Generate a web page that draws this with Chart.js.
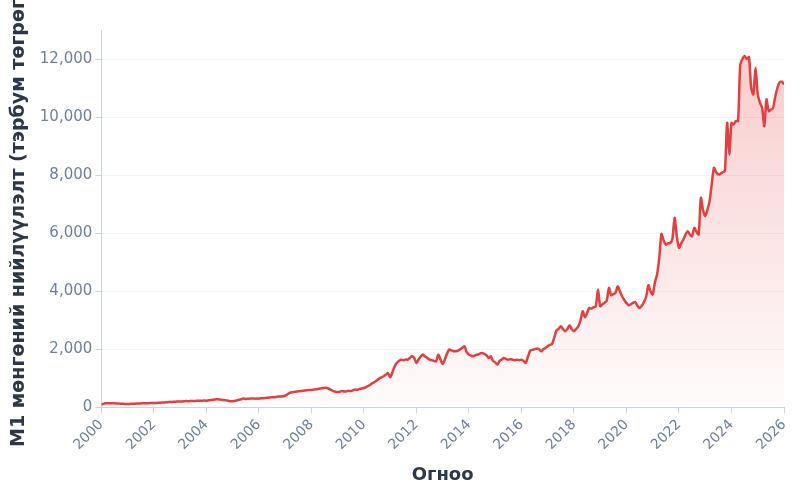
<!DOCTYPE html>
<html>
<head>
<meta charset="utf-8">
<script src="https://cdn.jsdelivr.net/npm/chart.js@4/dist/chart.umd.min.js"></script>
<style>
  html, body { margin: 0; padding: 0; background: #ffffff; }
  #wrap { width: 800px; height: 500px; }
</style>
</head>
<body>
<div id="wrap"><canvas id="c"></canvas></div>
<script>
// Monthly M1 values (billion MNT), Jan of startYear onward
const startYear = 2000;
const m1_2000 = [93, 120, 138, 140, 142, 140, 138, 135, 130, 125, 120, 117];
const m1_2001 = [115, 118, 122, 125, 130, 132, 135, 138, 140, 142, 145, 148];
const m1_2002 = [150, 152, 155, 160, 165, 170, 175, 180, 185, 190, 195, 200];
const m1_2003 = [205, 200, 210, 215, 212, 218, 220, 222, 225, 228, 230, 232];
const m1_2004 = [230, 240, 250, 260, 270, 275, 272, 265, 255, 240, 225, 210];
const m1_2005 = [210, 220, 240, 260, 280, 300, 290, 295, 300, 305, 300, 300];
const m1_2006 = [300, 310, 315, 320, 330, 340, 345, 350, 360, 370, 375, 380];
const m1_2007 = [400, 440, 500, 517, 530, 540, 550, 560, 570, 580, 590, 600];
const m1_2008 = [600, 610, 620, 630, 650, 660, 670, 667, 640, 600, 560, 540];
const m1_2009 = [528, 540, 560, 545, 552, 570, 560, 590, 610, 600, 630, 650];
const m1_2010 = [667, 700, 740, 780, 838, 880, 930, 990, 1030, 1069, 1120, 1183];
const m1_2011 = [1034, 1200, 1400, 1528, 1600, 1643, 1620, 1650, 1643, 1700, 1759, 1700];
const m1_2012 = [1528, 1650, 1750, 1816, 1750, 1700, 1643, 1620, 1600, 1586, 1816, 1650];
const m1_2013 = [1494, 1650, 1850, 1988, 1960, 1931, 1931, 1950, 2000, 2050, 2103, 1900];
const m1_2014 = [1816, 1780, 1759, 1800, 1816, 1850, 1873, 1840, 1800, 1700, 1759, 1600];
const m1_2015 = [1550, 1471, 1600, 1650, 1700, 1666, 1640, 1660, 1640, 1620, 1643, 1621];
const m1_2016 = [1643, 1600, 1528, 1750, 1954, 1980, 2000, 2023, 2010, 1931, 2000, 2050];
const m1_2017 = [2103, 2150, 2183, 2400, 2643, 2700, 2793, 2700, 2620, 2700, 2827, 2700];
const m1_2018 = [2620, 2700, 2793, 3000, 3310, 3103, 3250, 3424, 3400, 3450, 3480, 4058];
const m1_2019 = [3482, 3550, 3600, 3678, 4114, 3862, 3900, 3940, 4172, 4000, 3827, 3700];
const m1_2020 = [3600, 3517, 3550, 3600, 3631, 3500, 3424, 3500, 3631, 3800, 4207, 4000];
const m1_2021 = [3886, 4300, 4576, 5148, 5976, 5750, 5610, 5650, 5660, 5800, 6528, 5900];
const m1_2022 = [5493, 5650, 5782, 5950, 6069, 5950, 5896, 6183, 6050, 5954, 7217, 6800];
const m1_2023 = [6586, 6800, 7103, 7700, 8252, 8100, 8022, 8050, 8100, 8137, 9804, 8713];
const m1_2024 = [9800, 9747, 9862, 9862, 11800, 12000, 12103, 12000, 12070, 11010, 10780, 11700];
const m1_2025 = [10780, 10500, 10320, 9690, 10610, 10207, 10250, 10320, 10700, 11010, 11200, 11218];
const m1_2026 = [11126];

const yTickValues = [0, 2000, 4000, 6000, 8000, 10000, 12000];
const xTickYears = [2000, 2002, 2004, 2006, 2008, 2010, 2012, 2014, 2016, 2018, 2020, 2022, 2024, 2026];

const allMonthly = [].concat(m1_2000, m1_2001, m1_2002, m1_2003, m1_2004, m1_2005, m1_2006,
  m1_2007, m1_2008, m1_2009, m1_2010, m1_2011, m1_2012, m1_2013, m1_2014, m1_2015, m1_2016,
  m1_2017, m1_2018, m1_2019, m1_2020, m1_2021, m1_2022, m1_2023, m1_2024, m1_2025, m1_2026);
const points = allMonthly.map((v, i) => ({ x: startYear + i / 12, y: v }));

Chart.defaults.font.family = "'DejaVu Sans', sans-serif";

const ctx = document.getElementById('c').getContext('2d');
new Chart(ctx, {
  type: 'line',
  data: {
    datasets: [{
      data: points,
      borderColor: '#e53e3e',
      borderWidth: 2.5,
      pointRadius: 0,
      tension: 0.25,
      fill: 'origin',
      backgroundColor: (context) => {
        const chart = context.chart;
        const area = chart.chartArea;
        if (!area) return 'rgba(229,62,62,0.1)';
        const g = chart.ctx.createLinearGradient(0, area.top, 0, area.bottom);
        g.addColorStop(0, 'rgba(229,62,62,0.28)');
        g.addColorStop(1, 'rgba(229,62,62,0.02)');
        return g;
      }
    }]
  },
  options: {
    responsive: true,
    maintainAspectRatio: false,
    animation: false,
    layout: { padding: { top: 30, right: 16, left: 4, bottom: 14 } },
    plugins: {
      legend: { display: false },
      tooltip: { enabled: false }
    },
    scales: {
      x: {
        type: 'linear',
        min: 2000,
        max: 2026,
        afterBuildTicks: (axis) => { axis.ticks = xTickYears.map(v => ({ value: v })); },
        ticks: {
          color: '#718096',
          font: { size: 14 },
          padding: 3,
          maxRotation: 45,
          minRotation: 45,
          callback: (v) => String(v)
        },
        grid: { drawOnChartArea: false, color: '#cbd5e0', tickLength: 6 },
        border: { color: '#cbd5e0' },
        title: {
          display: true,
          text: 'Огноо',
          color: '#2d3748',
          font: { size: 18, weight: 'bold' },
          padding: { top: 8, bottom: 0 }
        }
      },
      y: {
        min: 0,
        max: 13000,
        afterBuildTicks: (axis) => { axis.ticks = yTickValues.map(v => ({ value: v })); },
        ticks: {
          color: '#718096',
          font: { size: 15 },
          callback: (v) => v.toLocaleString('en-US')
        },
        grid: { color: '#f3f4f6', tickColor: '#cbd5e0', tickLength: 6 },
        border: { color: '#cbd5e0' },
        title: {
          display: true,
          text: 'M1 мөнгөний нийлүүлэлт (тэрбум төгрөг)',
          color: '#2d3748',
          font: { size: 19, weight: 'bold' },
          padding: { bottom: 6 }
        }
      }
    }
  }
});
</script>
</body>
</html>
